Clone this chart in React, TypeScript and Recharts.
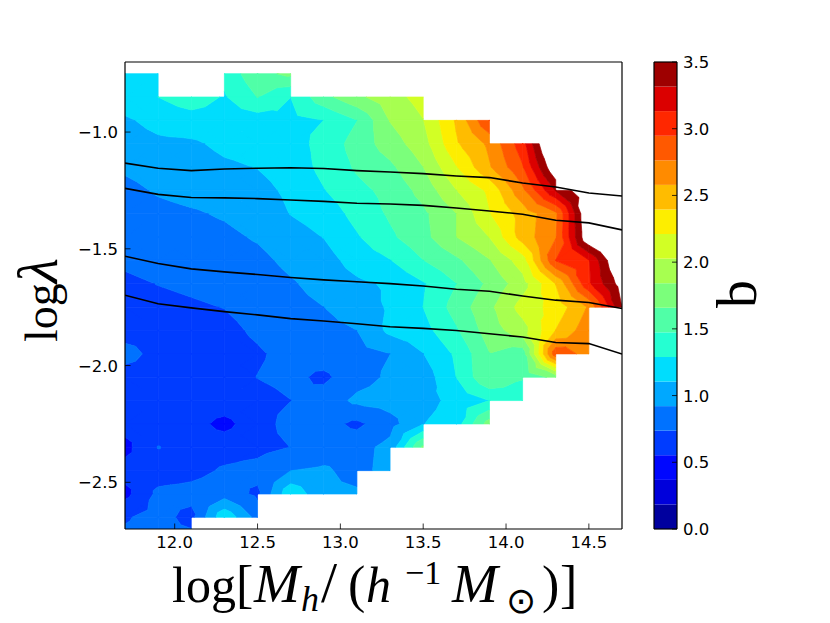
import React from 'react';
import { ComposedChart, BarChart, Bar, Scatter, Line, XAxis, YAxis, Label } from 'recharts';

const W = 830, H = 623;
const PLOT = { left: 125, right: 622, top: 62, bottom: 529 };
const X_DOMAIN: [number, number] = [11.7, 14.7];
const Y_DOMAIN: [number, number] = [-2.7, -0.7];
const X_TICKS = [12, 12.5, 13, 13.5, 14, 14.5];
const Y_TICKS = [-2.5, -2, -1.5, -1];
const CB_TICKS = [0, 0.5, 1, 1.5, 2, 2.5, 3, 3.5];

const LEVELS = [0, 0.184, 0.368, 0.553, 0.737, 0.921, 1.105, 1.289, 1.474, 1.658, 1.842, 2.026, 2.211, 2.395, 2.579, 2.763, 2.947, 3.132, 3.316, 3.5];
const COLORS = ['#00009E', '#0000DB', '#0007FF', '#003CFF', '#0072FF', '#00A8FF', '#00DDFD', '#25FFD2', '#50FFA7', '#7BFF7B', '#A7FF50', '#D2FF25', '#FDEE00', '#FFBC00', '#FF8B00', '#FF5900', '#FF2700', '#DB0000', '#9E0000'];

const N = null;
const MASS_GRID = [11.7, 11.9, 12.1, 12.3, 12.5, 12.7, 12.9, 13.1, 13.3, 13.5, 13.7, 13.9, 14.1, 14.3, 14.5, 14.7];
const LAMBDA_GRID = [-0.75, -0.85, -0.95, -1.05, -1.15, -1.25, -1.35, -1.45, -1.55, -1.65, -1.75, -1.85, -1.95, -2.05, -2.15, -2.25, -2.35, -2.45, -2.55, -2.65, -2.75];

const B_075 = [1.2, 1.22, N, 1.35, 1.6, 1.7];
const B_085 = [1.2, 1.29, 1.4, 1.27, 1.48, 1.29, 1.6, 1.8, 1.95, 2.1];
const B_095 = [1.08, 1.16, 1.2, 1.2, 1.19, 1.24, 1.29, 1.47, 1.85, 2.02, 2.42, 2.95];
const B_105 = [1.02, 1.07, 1.08, 1.14, 1.16, 1.21, 1.35, 1.55, 1.75, 1.95, 2.37, 2.62, 3.05, 3.95];
const B_115 = [0.95, 1.0, 1.03, 1.08, 1.11, 1.18, 1.34, 1.5, 1.62, 1.84, 2.2, 2.56, 2.93, 3.7];
const B_125 = [0.87, 0.94, 0.98, 1.0, 1.05, 1.14, 1.28, 1.42, 1.53, 1.72, 2.02, 2.25, 2.72, 3.33, 3.69, 4.0];
const B_135 = [0.83, 0.87, 0.9, 0.94, 1.0, 1.11, 1.18, 1.35, 1.5, 1.62, 1.84, 2.2, 2.47, 2.72, 3.75, 4.0];
const B_145 = [0.8, 0.83, 0.85, 0.88, 0.94, 1.03, 1.11, 1.27, 1.44, 1.6, 1.84, 2.03, 2.48, 2.75, 3.7, 4.0];
const B_155 = [0.76, 0.79, 0.81, 0.83, 0.87, 0.97, 1.03, 1.18, 1.28, 1.47, 1.62, 1.83, 2.12, 2.95, 3.12, 3.8];
const B_165 = [0.71, 0.74, 0.76, 0.78, 0.81, 0.9, 0.99, 1.07, 1.13, 1.27, 1.47, 1.7, 1.95, 2.4, 3.1, 3.6];
const B_175 = [0.68, 0.7, 0.72, 0.74, 0.79, 0.86, 0.92, 1.0, 1.13, 1.29, 1.55, 1.8, 2.1, 2.28, 2.6, 3.5];
const B_185 = [0.66, 0.67, 0.68, 0.7, 0.76, 0.82, 0.87, 0.92, 1.15, 1.22, 1.45, 1.75, 1.95, 2.4, 2.7];
const B_195 = [0.8, 0.68, 0.66, 0.68, 0.72, 0.78, 0.83, 0.86, 0.92, 1.1, 1.32, 1.65, 1.55, 2.9, 2.68];
const B_205 = [0.66, 0.66, 0.66, 0.68, 0.74, 0.78, 0.7, 0.85, 0.95, 1.0, 1.29, 1.65, 1.49, 1.72];
const B_215 = [0.64, 0.64, 0.65, 0.66, 0.68, 0.735, 0.82, 0.96, 1.0, 1.03, 1.17, 1.29, 1.35];
const B_225 = [0.62, 0.62, 0.62, 0.5, 0.66, 0.8, 0.8, 0.7, 0.85, 1.1, 1.2, 1.75];
const B_235 = [0.5, 0.745, 0.65, 0.66, 0.68, 0.74, 0.82, 0.85, 0.98, 1.7];
const B_245 = [0.62, 0.64, 0.68, 0.76, 0.8, 0.92, 0.95, 0.85, 1.0];
const B_255 = [0.5, 0.78, 0.8, 0.84, 0.7, 1.25, 0.95, 0.95];
const B_265 = [0.72, 0.8, 0.68, 1.25, 0.85];
const B_275 = [0.78, 0.8, 0.8];
const B_ROWS: (number | null)[][] = [B_075, B_085, B_095, B_105, B_115, B_125, B_135, B_145, B_155, B_165, B_175, B_185, B_195, B_205, B_215, B_225, B_235, B_245, B_255, B_265, B_275];

const LINE_1 = [-1.133, -1.155, -1.165, -1.158, -1.155, -1.153, -1.156, -1.165, -1.171, -1.178, -1.188, -1.195, -1.218, -1.235, -1.261, -1.274];
const LINE_2 = [-1.241, -1.267, -1.28, -1.282, -1.285, -1.291, -1.297, -1.305, -1.308, -1.314, -1.325, -1.338, -1.352, -1.378, -1.389, -1.419];
const LINE_3 = [-1.532, -1.563, -1.586, -1.599, -1.61, -1.623, -1.633, -1.641, -1.649, -1.659, -1.673, -1.682, -1.702, -1.72, -1.73, -1.756];
const LINE_4 = [-1.699, -1.735, -1.753, -1.769, -1.783, -1.799, -1.809, -1.821, -1.834, -1.841, -1.85, -1.864, -1.878, -1.901, -1.906, -1.951];
const LINES = [LINE_1, LINE_2, LINE_3, LINE_4];

const lineData = (vals: number[]) => vals.map((y, i) => ({ x: MASS_GRID[i], y }));

type Cell = { x: number; y: number; tl: number; tr: number; bl: number; br: number };
const cells: Cell[] = [];
for (let r = 0; r < LAMBDA_GRID.length - 1; r++) {
  for (let c = 0; c < MASS_GRID.length - 1; c++) {
    const tl = B_ROWS[r][c], tr = B_ROWS[r][c + 1], bl = B_ROWS[r + 1][c], br = B_ROWS[r + 1][c + 1];
    if (tl == null || tr == null || bl == null || br == null) continue;
    cells.push({ x: MASS_GRID[c], y: LAMBDA_GRID[r], tl, tr, bl, br });
  }
}

type P = [number, number, number];
const clip = (poly: P[], f: (p: P) => number): P[] => {
  const out: P[] = [];
  for (let i = 0; i < poly.length; i++) {
    const a = poly[i], b = poly[(i + 1) % poly.length];
    const fa = f(a), fb = f(b);
    if (fa >= 0) out.push(a);
    if ((fa >= 0) !== (fb >= 0)) {
      const t = fa / (fa - fb);
      out.push([a[0] + (b[0] - a[0]) * t, a[1] + (b[1] - a[1]) * t, a[2] + (b[2] - a[2]) * t]);
    }
  }
  return out;
};

const CellShape = (props: any) => {
  const { cx, cy, payload } = props;
  const dx = ((PLOT.right - PLOT.left) / (X_DOMAIN[1] - X_DOMAIN[0])) * 0.2;
  const dy = ((PLOT.bottom - PLOT.top) / (Y_DOMAIN[1] - Y_DOMAIN[0])) * 0.1;
  const { tl, tr, bl, br } = payload as Cell;
  const A: P = [cx, cy, tl], B: P = [cx + dx, cy, tr], C: P = [cx + dx, cy + dy, br], D: P = [cx, cy + dy, bl];
  const M: P = [cx + dx / 2, cy + dy / 2, (tl + tr + bl + br) / 4];
  const tris: P[][] = [[A, B, M], [B, C, M], [C, D, M], [D, A, M]];
  const paths: React.ReactNode[] = [];
  COLORS.forEach((color, i) => {
    const lo = LEVELS[i], hi = LEVELS[i + 1];
    let d = '';
    tris.forEach((tri) => {
      let poly = clip(tri, (p) => p[2] - lo);
      poly = clip(poly, (p) => hi - p[2]);
      poly = clip(poly, (p) => PLOT.bottom - p[1]);
      if (poly.length >= 3) d += 'M' + poly.map((p) => `${p[0].toFixed(2)},${p[1].toFixed(2)}`).join('L') + 'Z';
    });
    if (d) paths.push(<path key={i} d={d} fill={color} stroke={color} strokeWidth={0.7} />);
  });
  return <g>{paths}</g>;
};

const TICK_FONT = { fontFamily: 'DejaVu Sans', fontSize: 16.5, fill: '#000' };
const TICK_LEN = 5.5;
const fmt = (v: number) => v.toFixed(1).replace('-', '\u2212');

const BottomTick = ({ x, payload }: any) => (
  <g>
    <line x1={x} x2={x} y1={PLOT.bottom} y2={PLOT.bottom - TICK_LEN} stroke="#000" strokeWidth={0.8} />
    <text x={x} y={548} textAnchor="middle" {...TICK_FONT}>{fmt(payload.value)}</text>
  </g>
);
const TopTick = ({ x }: any) => <line x1={x} x2={x} y1={PLOT.top} y2={PLOT.top + TICK_LEN} stroke="#000" strokeWidth={0.8} />;
const LeftTick = ({ y, payload }: any) => (
  <g>
    <line x1={PLOT.left} x2={PLOT.left + TICK_LEN} y1={y} y2={y} stroke="#000" strokeWidth={0.8} />
    <text x={118} y={y + 6} textAnchor="end" {...TICK_FONT}>{fmt(payload.value)}</text>
  </g>
);
const RightTick = ({ y }: any) => <line x1={PLOT.right} x2={PLOT.right - TICK_LEN} y1={y} y2={y} stroke="#000" strokeWidth={0.8} />;

const SERIF = 'Liberation Serif';
const XTitle = () => (
  <text fontFamily={SERIF} fontSize={50} fill="#000" y={602}>
    <tspan x={172} y={602}>log</tspan>
    <tspan x={236} y={602} fontSize={52}>[</tspan>
    <tspan x={254} y={602} fontStyle="italic" fontSize={55}>M</tspan>
    <tspan x={301} y={611} fontStyle="italic" fontSize={36}>h</tspan>
    <tspan x={321} y={602} fontSize={58}>/</tspan>
    <tspan x={348} y={602} fontSize={52}>(</tspan>
    <tspan x={366} y={602} fontStyle="italic">h</tspan>
    <tspan x={405} y={584} fontSize={34}>{'\u22121'}</tspan>
    <tspan x={452} y={602} fontStyle="italic" fontSize={55}>M</tspan>
    <tspan x={506} y={613} fontSize={36} fontFamily="DejaVu Sans">{'\u2299'}</tspan>
    <tspan x={542} y={602} fontSize={52}>)</tspan>
    <tspan x={560} y={602} fontSize={52}>]</tspan>
  </text>
);
const YTitle = () => (
  <text fontFamily={SERIF} fontSize={46} fill="#000" transform="translate(57,342) rotate(-90)">
    log<tspan fontStyle="italic" fontSize={58}>{'\u03BB'}</tspan>
  </text>
);

// Colour bar
const CB = { left: 654, right: 677 };
const CB_ROW: Record<string, number | string> = { name: 'b' };
COLORS.forEach((_, i) => { CB_ROW['l' + i] = LEVELS[i + 1] - LEVELS[i]; });
const CbTick = ({ y, payload }: any) => (
  <g>
    <line x1={CB.right} x2={CB.right - 5} y1={y} y2={y} stroke="#000" strokeWidth={0.8} />
    <text x={683} y={y + 6} {...TICK_FONT}>{payload.value.toFixed(1)}</text>
  </g>
);
const CbTitle = () => (
  <text fontFamily={SERIF} fontSize={56} fill="#000" transform="translate(756,308) rotate(-90)">b</text>
);

const AXIS_LINE = { stroke: '#000', strokeWidth: 1.2 };
const TOP_Z = 1000;

export default function App() {
  const zAxis: any = { zIndex: TOP_Z };
  return (
    <div style={{ position: 'absolute', left: 0, top: 0, width: W, height: H, background: '#fff' }}>
      <div style={{ position: 'absolute', left: 0, top: 0 }}>
        <ComposedChart width={W} height={H} margin={{ left: 65, right: 148, top: 32, bottom: 34 }}>
          <Scatter data={cells} dataKey="y" shape={CellShape} isAnimationActive={false} />
          {LINES.map((l, i) => (
            <Line key={i} {...zAxis} data={lineData(l)} dataKey="y" stroke="#000" strokeWidth={1.6} dot={false} activeDot={false} legendType="none" isAnimationActive={false} />
          ))}
          <XAxis {...zAxis} xAxisId={0} dataKey="x" type="number" domain={X_DOMAIN} ticks={X_TICKS} height={60} tick={BottomTick} tickLine={false} allowDataOverflow axisLine={AXIS_LINE}>
            <Label content={XTitle} />
          </XAxis>
          <XAxis {...zAxis} xAxisId="top" orientation="top" dataKey="x" type="number" domain={X_DOMAIN} ticks={X_TICKS} height={30} tick={TopTick} tickLine={false} axisLine={AXIS_LINE} />
          <YAxis {...zAxis} yAxisId={0} dataKey="y" type="number" domain={Y_DOMAIN} ticks={Y_TICKS} width={60} tick={LeftTick} tickLine={false} allowDataOverflow axisLine={AXIS_LINE}>
            <Label content={YTitle} />
          </YAxis>
          <YAxis {...zAxis} yAxisId="right" orientation="right" type="number" domain={Y_DOMAIN} ticks={Y_TICKS} width={60} tick={RightTick} tickLine={false} axisLine={AXIS_LINE} />
        </ComposedChart>
      </div>
      <div style={{ position: 'absolute', left: 0, top: 0 }}>
        <BarChart width={W} height={H} data={[CB_ROW]} margin={{ left: CB.left - 30, right: W - CB.right - 60, top: 32, bottom: 64 }} barCategoryGap={0} barGap={0}>
          {COLORS.map((c, i) => (
            <Bar key={i} dataKey={'l' + i} stackId="cb" fill={c} isAnimationActive={false} />
          ))}
          <XAxis {...zAxis} xAxisId={0} dataKey="name" height={30} tick={false} tickLine={false} axisLine={AXIS_LINE} />
          <XAxis {...zAxis} xAxisId="top" orientation="top" dataKey="name" height={30} tick={false} tickLine={false} axisLine={AXIS_LINE} />
          <YAxis {...zAxis} yAxisId={0} orientation="right" type="number" domain={[0, 3.5]} ticks={CB_TICKS} width={60} tick={CbTick} tickLine={false} axisLine={AXIS_LINE}>
            <Label content={CbTitle} />
          </YAxis>
          <YAxis {...zAxis} yAxisId="l" orientation="left" type="number" domain={[0, 3.5]} width={30} tick={false} tickLine={false} axisLine={AXIS_LINE} />
        </BarChart>
      </div>
    </div>
  );
}
